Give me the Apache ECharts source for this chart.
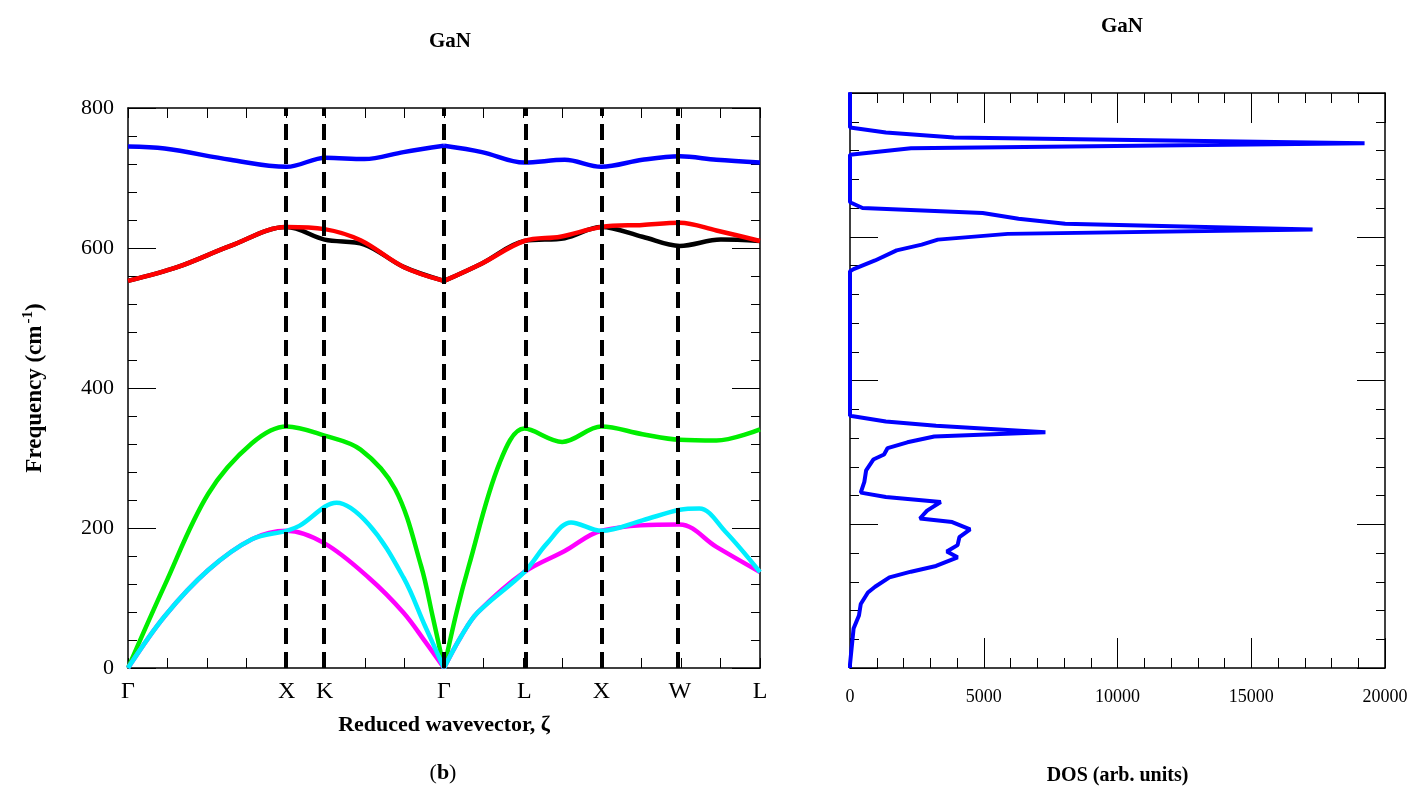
<!DOCTYPE html>
<html><head><meta charset="utf-8">
<script src="https://cdn.jsdelivr.net/npm/echarts@6/dist/echarts.min.js"></script>
<style>html,body{margin:0;padding:0;background:#fff}#c{width:1417px;height:802px}</style>
</head><body><div id="c"></div>
<script>
const kPoints = [0, 0.251, 0.311, 0.5, 0.627, 0.749, 0.873, 1];
const kLabels = ['Γ','X','K','Γ','L','X','W','L'];
const blue = [[0,745],[0.058,742],[0.162,726],[0.251,716],[0.313,729],[0.374,727],[0.436,737],[0.5,746],[0.56,737],[0.627,722],[0.691,726],[0.749,716],[0.814,726],[0.873,731],[0.931,726],[1,722]];
const red = [[0,553],[0.079,573],[0.162,603],[0.251,630],[0.311,627],[0.368,611],[0.436,573],[0.5,553],[0.56,578],[0.627,610],[0.684,616],[0.749,630],[0.814,633],[0.873,636],[0.931,625],[1,610]];
const black = [[0,553],[0.079,573],[0.162,603],[0.251,630],[0.311,612],[0.374,605],[0.436,573],[0.5,553],[0.56,578],[0.627,610],[0.691,614],[0.749,630],[0.814,616],[0.873,603],[0.938,612],[1,610]];
const green = [[0,0],[0.058,118],[0.127,249],[0.196,321],[0.251,345],[0.311,332],[0.368,312],[0.423,255],[0.464,145],[0.482,74],[0.5,0],[0.52,80],[0.539,145],[0.588,293],[0.627,342],[0.687,323],[0.749,345],[0.814,334],[0.873,326],[0.931,325],[1,341]];
const cyan = [[0,0],[0.058,74],[0.127,140],[0.196,184],[0.251,196],[0.271,203],[0.33,236],[0.381,205],[0.436,129],[0.47,60],[0.5,0],[0.527,45],[0.553,79],[0.627,137],[0.663,178],[0.701,208],[0.749,196],[0.814,211],[0.873,226],[0.904,228],[0.945,195],[1,137]];
const magenta = [[0,0],[0.058,74],[0.127,140],[0.196,184],[0.251,196],[0.311,178],[0.381,129],[0.436,79],[0.47,38],[0.5,0],[0.527,45],[0.553,79],[0.627,137],[0.691,167],[0.749,196],[0.873,205],[0.931,173],[1,137]];
const dos = [[0,0],[0,5],[134,55],[335,73],[402,89],[670,105],[938,113],[1475,126],[2279,134],[3217,142],[4022,154],[3619,162],[4022,171],[4089,182],[4490,193],[3820,203],[2614,208],[2882,219],[3391,231],[1340,238],[402,244],[536,259],[603,275],[871,290],[1273,297],[1407,306],[2145,314],[3150,322],[7305,328],[3217,337],[1340,343],[0,351],[0,552],[134,555],[938,567],[1743,581],[2681,589],[3284,596],[5898,604],[17292,610],[8043,618],[6300,625],[4960,633],[469,640],[0,648],[0,714],[2279,723],[19236,730],[3887,738],[1340,745],[0,752],[0,801]];

const serif = 'Liberation Serif, DejaVu Serif, serif';
function vAxis(grid, pos, min, max, interval, minorSplit, major, minor){
  return {type:'value', gridIndex:grid, position:pos, min, max, interval,
    axisLine:{show:true,onZero:false,lineStyle:{color:'#000',width:1.5}},
    axisTick:{show:true,inside:true,length:major,lineStyle:{color:'#000',width:1}},
    minorTick:{show:minorSplit>0,splitNumber:minorSplit||5,length:minor,lineStyle:{color:'#000',width:1}},
    splitLine:{show:false}, axisLabel:{show:false}};
}
const xL = vAxis(0,'bottom',0,1,0.0625,0,10,0);
xL.axisLabel = {show:true, customValues:kPoints, formatter:(v)=>{const i=kPoints.findIndex(p=>Math.abs(p-v)<1e-6);return i>=0?kLabels[i]:'';}, fontFamily:serif, fontSize:24, color:'#000', margin:12};
xL.name='Reduced wavevector, ζ'; xL.nameLocation='middle'; xL.nameGap=46;
xL.nameTextStyle={fontFamily:serif,fontSize:22,fontWeight:'bold',color:'#000'};
const xLt = vAxis(0,'top',0,1,0.0625,0,10,0);
const yL = vAxis(0,'left',0,800,200,5,28,9);
yL.axisLabel={show:true,fontFamily:serif,fontSize:22,color:'#000',margin:14};
const yLr = vAxis(0,'right',0,800,200,5,28,9);
const xR = vAxis(1,'bottom',0,20000,5000,5,30,10);
xR.axisLabel={show:true,fontFamily:serif,fontSize:18,color:'#000',margin:20,formatter:(v)=>String(v)};
xR.name='DOS (arb. units)'; xR.nameLocation='middle'; xR.nameGap=98;
xR.nameTextStyle={fontFamily:serif,fontSize:20,fontWeight:'bold',color:'#000'};
const xRt = vAxis(1,'top',0,20000,5000,5,30,10);
const yR = vAxis(1,'left',0,800,200,5,28,9);
const yRr = vAxis(1,'right',0,800,200,5,28,9);

function band(data,color,z){
  const a=data.filter(p=>p[0]<=0.5), b=data.filter(p=>p[0]>=0.5);
  return [a,b].map(d=>({type:'line',xAxisIndex:0,yAxisIndex:0,data:d,smooth:0.35,symbol:'none',lineStyle:{color,width:4.5},z:z||3}));
}
const series = [].concat(
  band(black,'#000'), band(red,'#ff0000',4), band(blue,'#0000ff'),
  band(green,'#00ee00'), band(magenta,'#ff00ff'), band(cyan,'#00eeff',4));
series[series.length-1].markLine={silent:true,symbol:'none',label:{show:false},lineStyle:{color:'#000',width:4,type:[16,8]},data:kPoints.slice(1,7).map(v=>({xAxis:v}))};
series.push({type:'line',xAxisIndex:2,yAxisIndex:2,data:dos,symbol:'none',lineStyle:{color:'#0000ff',width:4}});
const option = {
  animation:false,
  grid:[{left:128,right:657,top:108,bottom:134},{left:850,right:32,top:93,bottom:134}],
  xAxis:[xL,xLt,xR,xRt],
  yAxis:[yL,yLr,yR,yRr],
  title:[{text:'GaN',left:445,top:26,textAlign:'center',textStyle:{fontFamily:serif,fontSize:21,fontWeight:'bold',color:'#000'}},
         {text:'GaN',left:1117,top:11,textAlign:'center',textStyle:{fontFamily:serif,fontSize:21,fontWeight:'bold',color:'#000'}}],
  graphic:[
    {type:'group',x:35,y:388,rotation:Math.PI/2,children:[
      {type:'text',style:{text:'{a|Frequency (cm}{s|-1}{a|)}',rich:{a:{fontFamily:serif,fontSize:23,fontWeight:'bold',fill:'#000'},s:{fontFamily:serif,fontSize:15,fontWeight:'bold',fill:'#000',verticalAlign:'top',padding:[0,0,14,2]}},align:'center',verticalAlign:'middle'}}
    ]},
    {type:'text',x:443,y:773,style:{text:'({b|b})',rich:{b:{fontFamily:serif,fontSize:22,fontWeight:'bold',fill:'#000'}},fontFamily:serif,fontSize:22,fill:'#000',align:'center',verticalAlign:'middle'}}
  ],
  series
};
echarts.init(document.getElementById('c')).setOption(option);
</script></body></html>
